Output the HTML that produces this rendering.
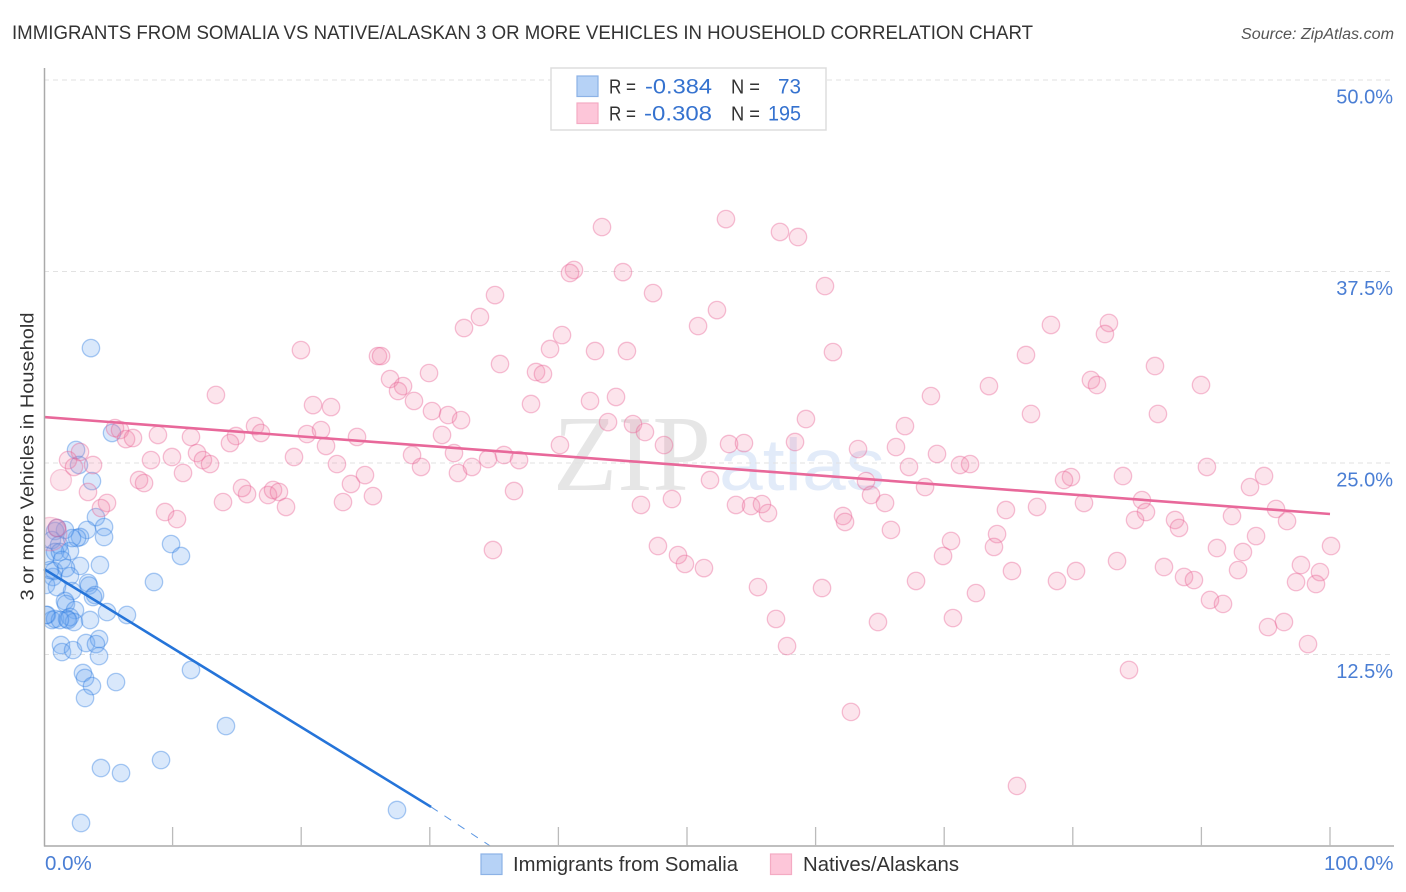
<!DOCTYPE html>
<html lang="en">
<head>
<meta charset="utf-8">
<title>Immigrants from Somalia vs Native/Alaskan 3 or More Vehicles in Household Correlation Chart</title>
<style>
html,body{margin:0;padding:0;background:#fff;}
svg{display:block;font-family:"Liberation Sans",sans-serif;}
</style>
</head>
<body>
<svg id="chart" xmlns="http://www.w3.org/2000/svg" width="1406" height="892" viewBox="0 0 1406 892">
  <defs><clipPath id="plot-clip"><rect x="45" y="60" width="1349" height="786"/></clipPath></defs>
  <text x="12" y="39" font-size="19.5" fill="#333" textLength="1021" lengthAdjust="spacingAndGlyphs">IMMIGRANTS FROM SOMALIA VS NATIVE/ALASKAN 3 OR MORE VEHICLES IN HOUSEHOLD CORRELATION CHART</text>
  <text x="1394" y="39" font-size="15.5" font-style="italic" fill="#555" text-anchor="end" textLength="153" lengthAdjust="spacingAndGlyphs">Source: ZipAtlas.com</text>
  <g>
    <text x="553" y="490" font-family="'Liberation Serif',serif" font-size="108" fill="#e6e6e6" textLength="158" lengthAdjust="spacingAndGlyphs">ZIP</text>
    <text x="719" y="490" font-size="73" fill="#e2ebf9" textLength="166" lengthAdjust="spacingAndGlyphs">atlas</text>
  </g>
  <g id="grid"></g>
  <g id="blue-points" clip-path="url(#plot-clip)"></g>
  <g id="pink-points" clip-path="url(#plot-clip)"></g>
  <g id="trends"></g>
  <g id="axes"></g>
  <text transform="translate(33.5,456.5) rotate(-90)" font-size="18.5" fill="#333" text-anchor="middle" textLength="288" lengthAdjust="spacingAndGlyphs">3 or more Vehicles in Household</text>

  <g>
    <rect x="551" y="68" width="275" height="62" fill="#fff" stroke="#ddd" stroke-width="1.5"/>
    <rect x="577" y="76" width="21" height="20.5" fill="#b6d2f6" stroke="#8cb2e6" stroke-width="1.2"/>
    <rect x="577" y="103" width="21" height="20.5" fill="#fdc6d9" stroke="#f4abc3" stroke-width="1.2"/>
    <g font-size="20" fill="#333">
      <text x="609" y="93.5" textLength="27" lengthAdjust="spacingAndGlyphs">R =</text>
      <text x="731" y="93.5" textLength="29" lengthAdjust="spacingAndGlyphs">N =</text>
      <text x="609" y="120.5" textLength="27" lengthAdjust="spacingAndGlyphs">R =</text>
      <text x="731" y="120.5" textLength="29" lengthAdjust="spacingAndGlyphs">N =</text>
    </g>
    <g font-size="21.5" fill="#3572cf">
      <text x="645" y="93.5" textLength="67" lengthAdjust="spacingAndGlyphs">-0.384</text>
      <text x="778" y="93.5" textLength="23" lengthAdjust="spacingAndGlyphs">73</text>
      <text x="644" y="120.5" textLength="68" lengthAdjust="spacingAndGlyphs">-0.308</text>
      <text x="768" y="120.5" textLength="33" lengthAdjust="spacingAndGlyphs">195</text>
    </g>
  </g>

  <g>
    <g>
      <rect x="481" y="854" width="21" height="20.5" fill="#b6d2f6" stroke="#8cb2e6" stroke-width="1.2"/>
      <text x="513" y="871" font-size="20" fill="#333" textLength="225" lengthAdjust="spacingAndGlyphs">Immigrants from Somalia</text>
    </g>
    <g>
      <rect x="770.5" y="854" width="21" height="20.5" fill="#fdc6d9" stroke="#f4abc3" stroke-width="1.2"/>
      <text x="803" y="871" font-size="20" fill="#333" textLength="156" lengthAdjust="spacingAndGlyphs">Natives/Alaskans</text>
    </g>
  </g>
</svg>

<script>
const xGridValues = [10,20,30,40,50,60,70,80,90,100];
const yGridValues = [12.5,25,37.5,50];
const yTickLabels = ["12.5%","25.0%","37.5%","50.0%"];
const xEndValues = [0,100];
const xEndLabels = ["0.0%","100.0%"];

const blueX = [3.65,2.49,5.29,2.72,3.73,4.04,4.67,4.67,3.34,2.80,2.57,1.63,0.86,0.62,1.17,2.02,0.16,0.86,1.24,4.35,2.80,0.78,1.71,0.70,2.02,0.16,1.01,2.18,3.42,3.50,3.97,3.81,1.63,1.71,2.41,4.90,6.45,0.23,0.62,0.86,1.79,2.02,2.33,3.58,1.32,1.40,2.26,3.27,4.28,4.04,4.28,3.03,3.19,5.60,3.73,3.19,11.43,14.15,4.43,5.99,9.10,2.88,27.45,8.55,9.88,10.65,0.47,1.40,1.01,1.87,1.24,2.18,0.16];
const blueY = [32.50,25.85,26.96,24.87,23.82,21.47,20.82,20.17,20.63,20.17,20.10,20.63,20.56,19.97,19.65,19.25,18.93,19.19,19.19,18.34,18.28,17.95,18.14,17.56,17.62,17.04,16.90,16.64,17.17,17.00,16.38,16.25,15.99,15.80,15.40,15.27,15.08,15.08,14.75,14.82,14.82,14.95,14.62,14.75,13.12,12.66,12.79,13.25,13.51,13.18,12.40,11.29,10.97,10.70,10.44,9.66,11.49,7.83,5.09,4.76,5.61,1.50,2.35,17.23,19.71,18.93,18.01,18.67,20.76,14.75,14.75,20.10,15.08];

const pinkX = [53.03,43.39,57.23,58.63,41.21,40.90,45.02,47.36,60.73,35.07,33.90,32.66,52.33,50.86,40.28,39.35,42.85,45.33,61.35,19.98,25.97,26.21,35.46,29.94,26.91,38.26,38.80,27.92,27.53,28.77,13.37,37.87,42.46,44.48,20.92,22.32,30.17,31.42,32.43,78.30,82.81,82.50,76.36,86.39,81.41,81.88,89.97,73.48,68.97,76.75,86.62,59.25,66.95,43.86,45.80,46.73,40.12,58.40,53.27,54.43,48.21,16.41,16.87,5.52,5.91,6.38,6.92,8.86,11.43,14.93,14.46,20.45,21.54,24.34,30.95,21.93,2.80,1.87,2.33,3.81,8.32,9.95,11.90,10.81,12.36,12.91,19.44,22.78,28.62,31.88,32.19,29.32,35.77,34.53,33.28,36.94,63.30,66.25,69.44,67.26,71.23,72.01,90.43,83.90,94.87,79.86,79.32,93.78,68.51,63.92,64.31,51.79,48.83,46.42,53.81,54.98,55.83,56.30,65.40,80.87,85.38,85.69,74.80,77.22,84.84,92.38,95.80,96.66,87.95,88.26,94.25,100.08,74.11,73.87,70.53,65.86,62.13,62.29,91.21,93.23,69.91,34.91,47.74,49.30,49.84,51.32,83.44,87.09,92.85,97.74,99.22,97.36,98.91,88.65,89.42,75.27,80.25,78.77,67.81,55.52,60.50,72.47,90.67,91.68,56.92,64.85,70.68,95.18,96.42,57.78,98.29,84.37,62.75,75.66,7.39,7.78,3.42,4.90,4.43,9.41,10.34,13.92,15.79,15.40,17.42,17.81,18.27,18.82,23.25,23.87,24.96,25.58,36.55,1.01];
const pinkY = [40.92,40.40,40.08,39.75,37.60,37.40,37.46,36.09,36.55,35.96,34.53,33.81,34.98,33.94,33.35,32.44,32.31,32.31,32.24,32.37,31.98,31.98,31.46,30.87,30.48,30.94,30.81,30.02,29.70,29.05,29.44,28.85,29.05,29.31,28.78,28.65,28.39,28.13,27.80,34.01,34.14,33.42,32.05,31.33,30.42,30.09,30.09,30.02,29.37,28.20,28.20,27.87,27.41,27.67,27.54,27.02,26.17,26.37,26.24,26.30,26.17,27.41,26.96,27.28,27.15,26.56,26.63,26.83,26.70,26.76,26.30,26.89,27.15,26.70,26.83,26.11,25.72,25.19,24.74,24.87,25.19,25.39,25.65,24.35,25.19,24.93,25.39,24.93,25.52,25.65,24.35,24.74,25.52,25.26,24.74,25.19,25.91,26.04,25.59,24.74,24.87,24.93,24.74,24.15,24.15,24.08,23.89,23.43,23.43,23.82,22.91,23.89,22.65,22.26,22.26,22.19,22.32,21.73,22.39,22.39,22.58,21.80,21.93,22.13,21.28,21.54,22.00,21.21,21.28,20.76,20.23,19.58,20.36,19.52,19.91,20.63,21.54,21.15,19.45,19.19,18.93,19.32,19.58,18.99,18.41,18.14,18.60,18.21,18.01,18.34,17.88,17.23,17.10,17.56,17.36,17.95,17.95,17.30,17.30,16.90,16.84,16.51,16.06,15.80,14.82,14.62,14.88,14.29,14.62,13.05,13.18,11.49,8.75,3.92,23.89,23.69,23.11,22.39,22.06,21.80,21.34,22.45,22.97,23.37,22.91,23.24,23.11,22.13,22.45,23.63,24.21,22.84,23.17,20.76];

const pinkBigX = [0.47,1.32];
const pinkBigY = [20.36,23.89];
const pinkBigWeight = [3.7,1.46];

const blueTrendX = [0,30.1];
const blueTrendY = [18.08,2.55];
const blueTrendExtX = [30.1,34.7];
const blueTrendExtY = [2.55,0];
const pinkTrendX = [0,100];
const pinkTrendY = [28.0,21.67];

const NS = "http://www.w3.org/2000/svg";
const xPos = v => 44 + v * 12.86;
const yPos = v => 846 - v * 15.32;
const radius = w => 8.7 * Math.sqrt(w);

function make(parent, tag, attrs, txt) {
  const el = document.createElementNS(NS, tag);
  for (const k in attrs) el.setAttribute(k, attrs[k]);
  if (txt !== undefined) el.textContent = txt;
  parent.appendChild(el);
  return el;
}

const grid = document.getElementById("grid");
const axes = document.getElementById("axes");
const trends = document.getElementById("trends");

yGridValues.forEach(v => {
  const g = make(grid, "line", {x1:44, x2:1394, y1:yPos(v), y2:yPos(v), stroke:"#e2e2e2", "stroke-width":1, "stroke-dasharray":"5 4"});
  
  
});

const yAxis = make(axes, "line", {x1:44.5, x2:44.5, y1:68, y2:846.5, stroke:"#aaa", "stroke-width":1.5});


const xAxis = make(axes, "line", {x1:44, x2:1394, y1:846, y2:846, stroke:"#aaa", "stroke-width":1.5});



xGridValues.forEach(v => {
  const t = make(axes, "line", {x1:xPos(v), x2:xPos(v), y1:827, y2:846, stroke:"#bbb", "stroke-width":1.3});
  
  
});

yGridValues.forEach((v, i) => {
  const l = make(axes, "text", {x:1393, y:yPos(v) + 23.5, "text-anchor":"end", "font-size":20, fill:"#4a7ed4"}, yTickLabels[i]);
  
  
});

xEndValues.forEach((v, i) => {
  const l = make(axes, "text", {x: i === 0 ? xPos(v) + 1 : 1393.5, y:870, "text-anchor": i === 0 ? "start" : "end", "font-size":20.5, fill:"#4a7ed4"}, xEndLabels[i]);
  
  
});

const blueGroup = document.getElementById("blue-points");
blueX.forEach((v, i) => {
  const c = make(blueGroup, "circle", {cx:xPos(v), cy:yPos(blueY[i]), r:radius(1), fill:"rgba(110,168,240,0.26)", stroke:"rgba(47,125,224,0.4)", "stroke-width":1.3});
  
  
});

const pinkGroup = document.getElementById("pink-points");
pinkX.forEach((v, i) => {
  const c = make(pinkGroup, "circle", {cx:xPos(v), cy:yPos(pinkY[i]), r:radius(1), fill:"rgba(240,130,170,0.22)", stroke:"rgba(232,100,150,0.4)", "stroke-width":1.3});
  
  
});
pinkBigX.forEach((v, i) => {
  const c = make(pinkGroup, "circle", {cx:xPos(v), cy:yPos(pinkBigY[i]), r:radius(pinkBigWeight[i]), fill:"rgba(240,130,170,0.22)", stroke:"rgba(232,100,150,0.3)", "stroke-width":1.3});
  
  
});

const blueLine = make(trends, "line", {x1:xPos(blueTrendX[0]), y1:yPos(blueTrendY[0]), x2:xPos(blueTrendX[1]), y2:yPos(blueTrendY[1]), stroke:"#2574d9", "stroke-width":2.6});


const blueExt = make(trends, "line", {x1:xPos(blueTrendExtX[0]), y1:yPos(blueTrendExtY[0]), x2:xPos(blueTrendExtX[1]), y2:yPos(blueTrendExtY[1]), stroke:"#5b96e2", "stroke-width":1, "stroke-dasharray":"8 8"});


const pinkLine = make(trends, "line", {x1:xPos(pinkTrendX[0]), y1:yPos(pinkTrendY[0]), x2:xPos(pinkTrendX[1]), y2:yPos(pinkTrendY[1]), stroke:"#e8689a", "stroke-width":2.6});


</script>
</body>
</html>
